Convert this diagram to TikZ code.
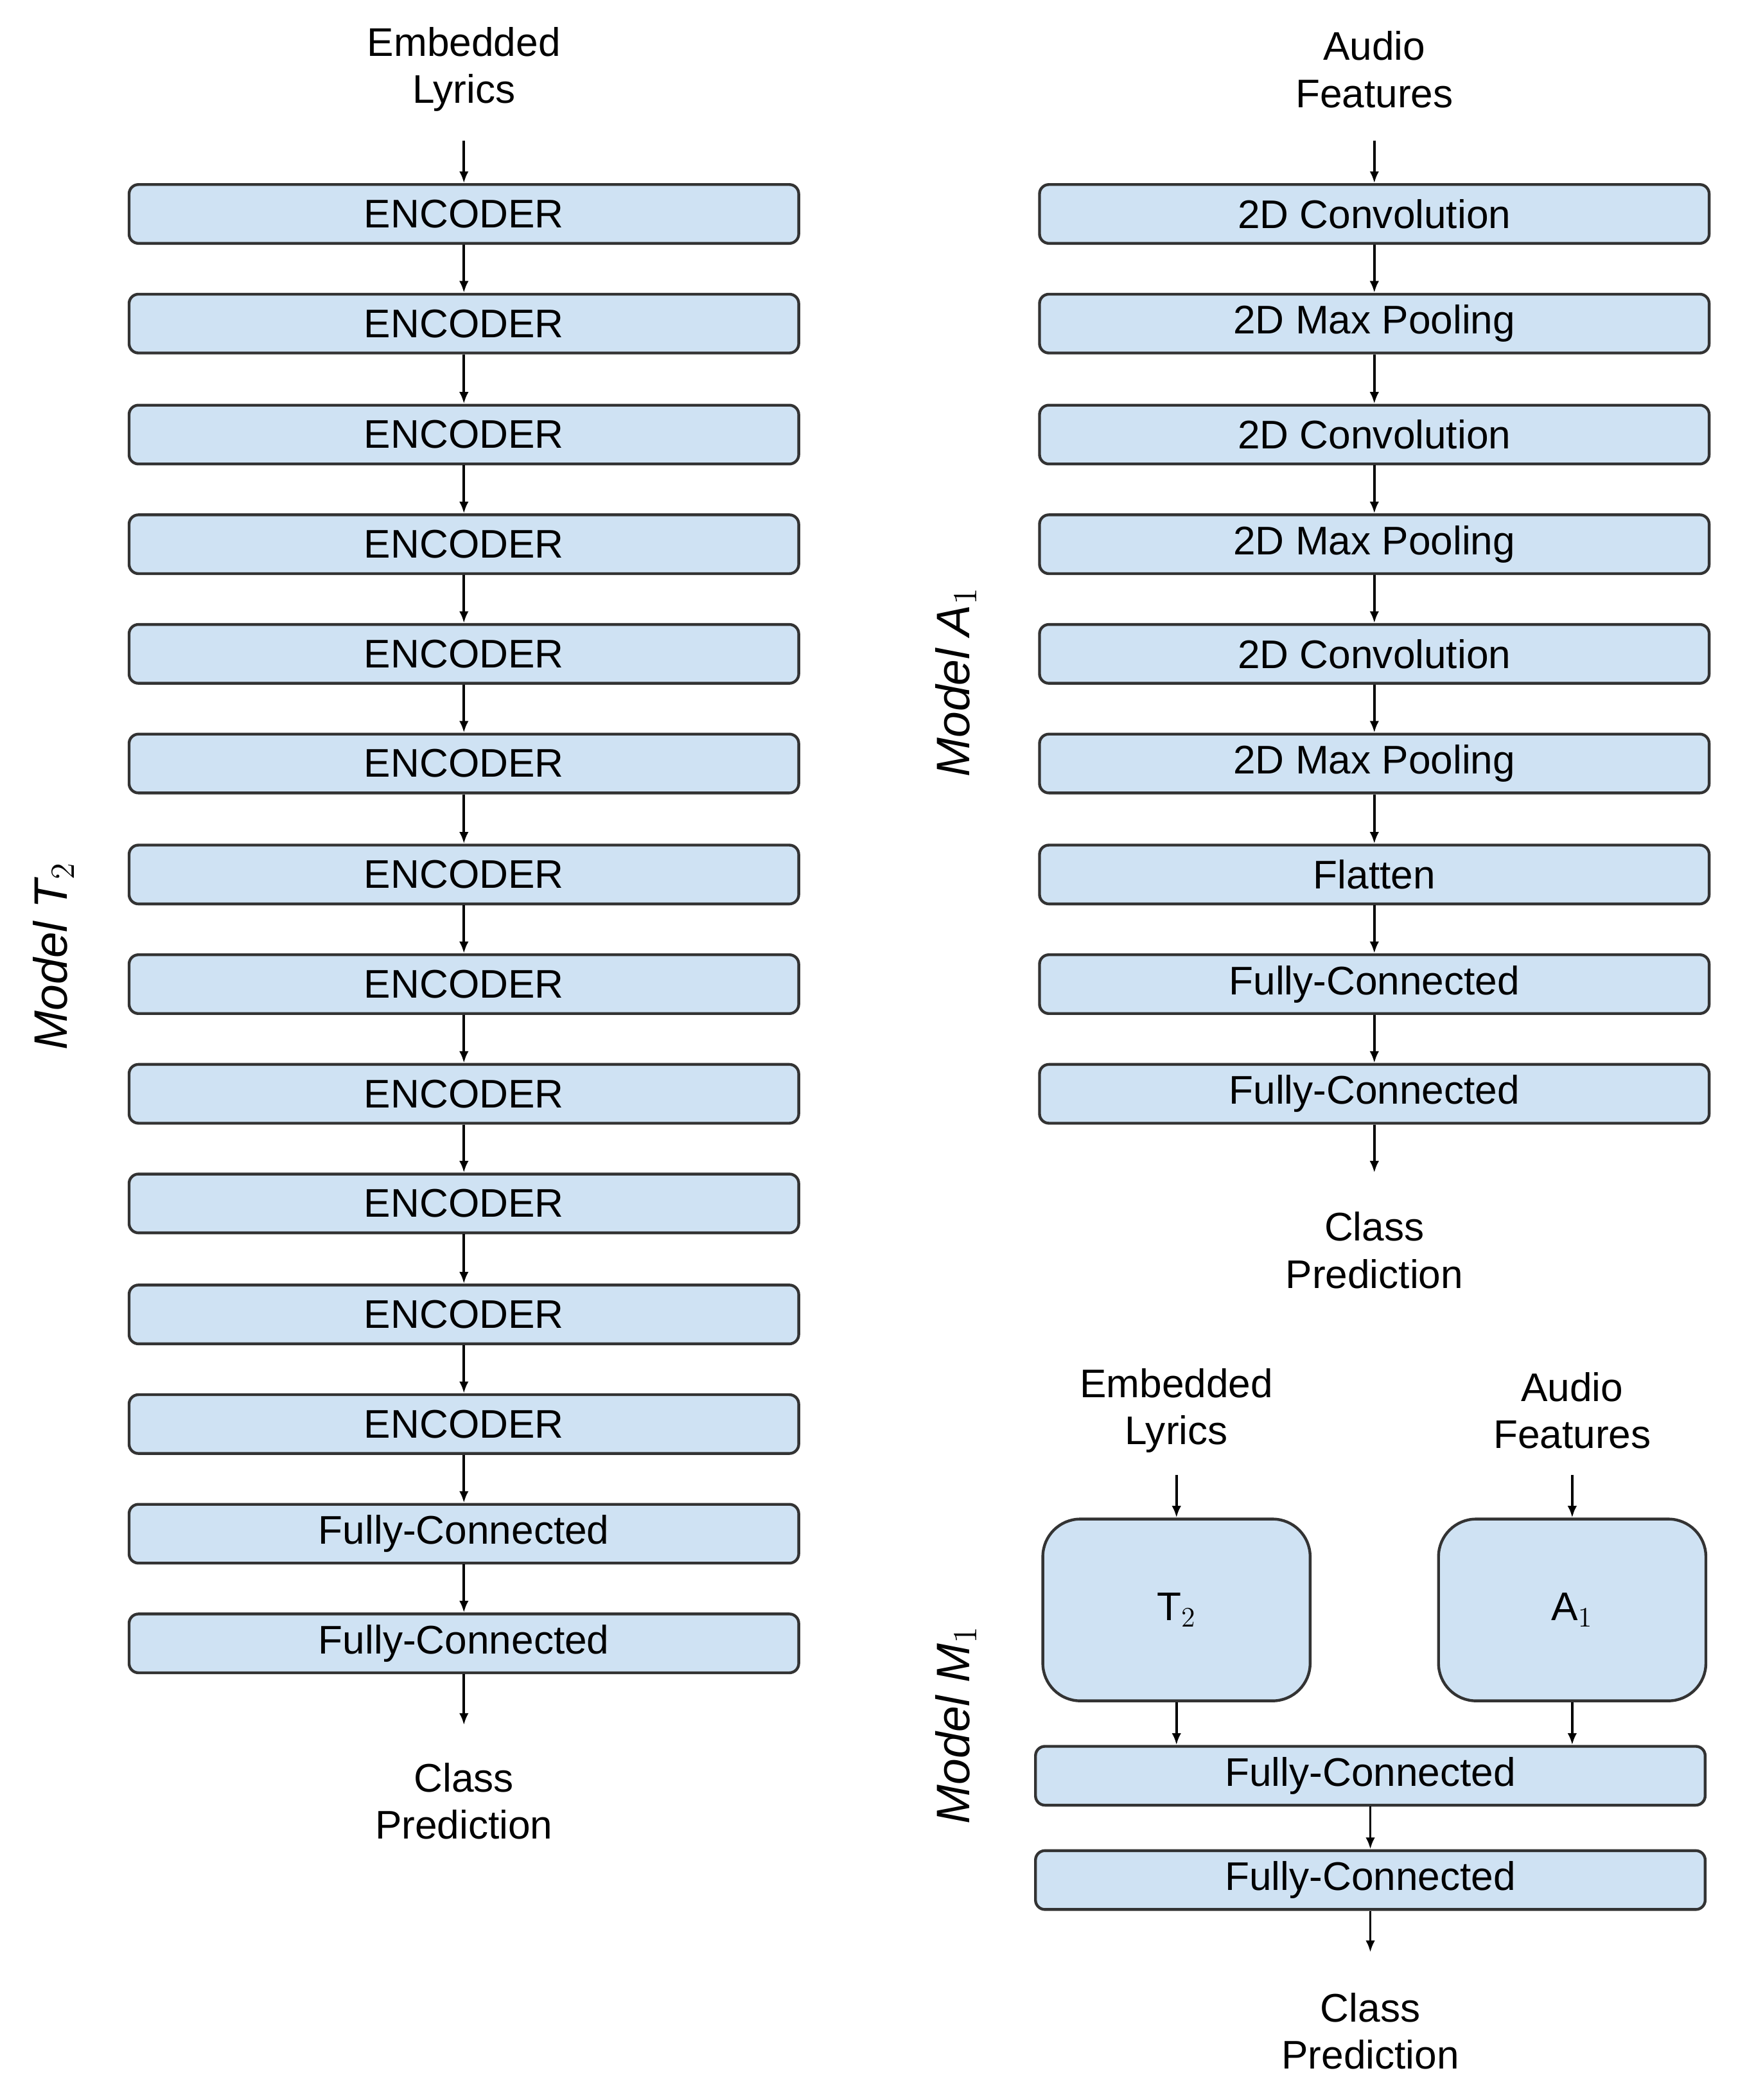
\documentclass[tikz,border=0pt]{standalone}
\usepackage{fontspec}
\setmainfont{Liberation Sans}
\usetikzlibrary{arrows.meta}
\definecolor{boxblue}{HTML}{CFE2F3}
\begin{document}
\begin{tikzpicture}[x=0.02cm,y=-0.02cm,
  lay/.style={draw=black!80,line width=1.2pt,fill=boxblue,rounded corners=4pt,minimum width=10.02cm,minimum height=0.88cm,inner sep=0pt,font=\fontsize{17}{20}\selectfont},
  big/.style={draw=black!80,line width=1.2pt,fill=boxblue,rounded corners=16pt,minimum width=4cm,minimum height=2.72cm,inner sep=0pt,font=\fontsize{17}{20}\selectfont},
  txt/.style={align=center,font=\fontsize{17}{20}\selectfont,inner sep=1pt},
  lbl/.style={rotate=90,font=\fontsize{20}{24}\selectfont\itshape},
  arr/.style={-{Latex[length=5pt,width=4pt]},line width=1pt}]
\useasboundingbox (0,0) rectangle (1300,1570.5);
% left column
\node[txt] (lin) at (347,52) {Embedded\\Lyrics};
\foreach \i/\y in {1/160,2/242,3/325,4/407,5/489,6/571,7/654,8/736,9/818,10/900,11/983,12/1065}
  \node[lay] (L\i) at (347,\y) {ENCODER};
\node[lay] (L13) at (347,1147) {Fully-Connected};
\node[lay] (L14) at (347,1229) {Fully-Connected};
\node[txt] (lout) at (347,1347) {Class\\Prediction};
\coordinate (lina) at (347,105);
\coordinate (louta) at (347,1290);
\draw[arr] (lina) -- (L1.north);
\foreach \i [evaluate=\i as \j using int(\i+1)] in {1,...,13}
  \draw[arr] (L\i.south) -- (L\j.north);
\draw[arr] (L14.south) -- (louta);
\node[lbl] (mt) at (40,715) {Model T$_2$};
% right column
\node[txt] (rin) at (1028,52) {Audio\\Features};
\foreach \i/\y/\t in {1/160/2D Convolution,2/242/2D Max Pooling,3/325/2D Convolution,4/407/2D Max Pooling,5/489/2D Convolution,6/571/2D Max Pooling,7/654/Flatten,8/736/Fully-Connected,9/818/Fully-Connected}
  \node[lay] (R\i) at (1028,\y) {\t};
\node[txt] (rout) at (1028,935) {Class\\Prediction};
\coordinate (rina) at (1028,105);
\coordinate (routa) at (1028,877);
\draw[arr] (rina) -- (R1.north);
\foreach \i [evaluate=\i as \j using int(\i+1)] in {1,...,8}
  \draw[arr] (R\i.south) -- (R\j.north);
\draw[arr] (R9.south) -- (routa);
\node[lbl] (ma) at (715,510) {Model A$_1$};
% bottom right
\node[txt] (min1) at (880,1055) {Embedded\\Lyrics};
\node[txt] (min2) at (1176,1055) {Audio\\Features};
\node[big] (T) at (880,1204) {T$_2$};
\node[big] (A) at (1176,1204) {A$_1$};
\node[lay] (F1) at (1025,1328) {Fully-Connected};
\node[lay] (F2) at (1025,1406) {Fully-Connected};
\node[txt] (mout) at (1025,1519) {Class\\Prediction};
\coordinate (m1a) at (880,1103);
\coordinate (m2a) at (1176,1103);
\coordinate (mouta) at (1025,1460);
\draw[arr] (m1a) -- (T.north);
\draw[arr] (m2a) -- (A.north);
\draw[arr] (T.south) -- (T.south |- F1.north);
\draw[arr] (A.south) -- (A.south |- F1.north);
\draw[arr] (F1.south) -- (F2.north);
\draw[arr] (F2.south) -- (mouta);
\node[lbl] (mm) at (715,1290) {Model M$_1$};
\end{tikzpicture}
\end{document}
